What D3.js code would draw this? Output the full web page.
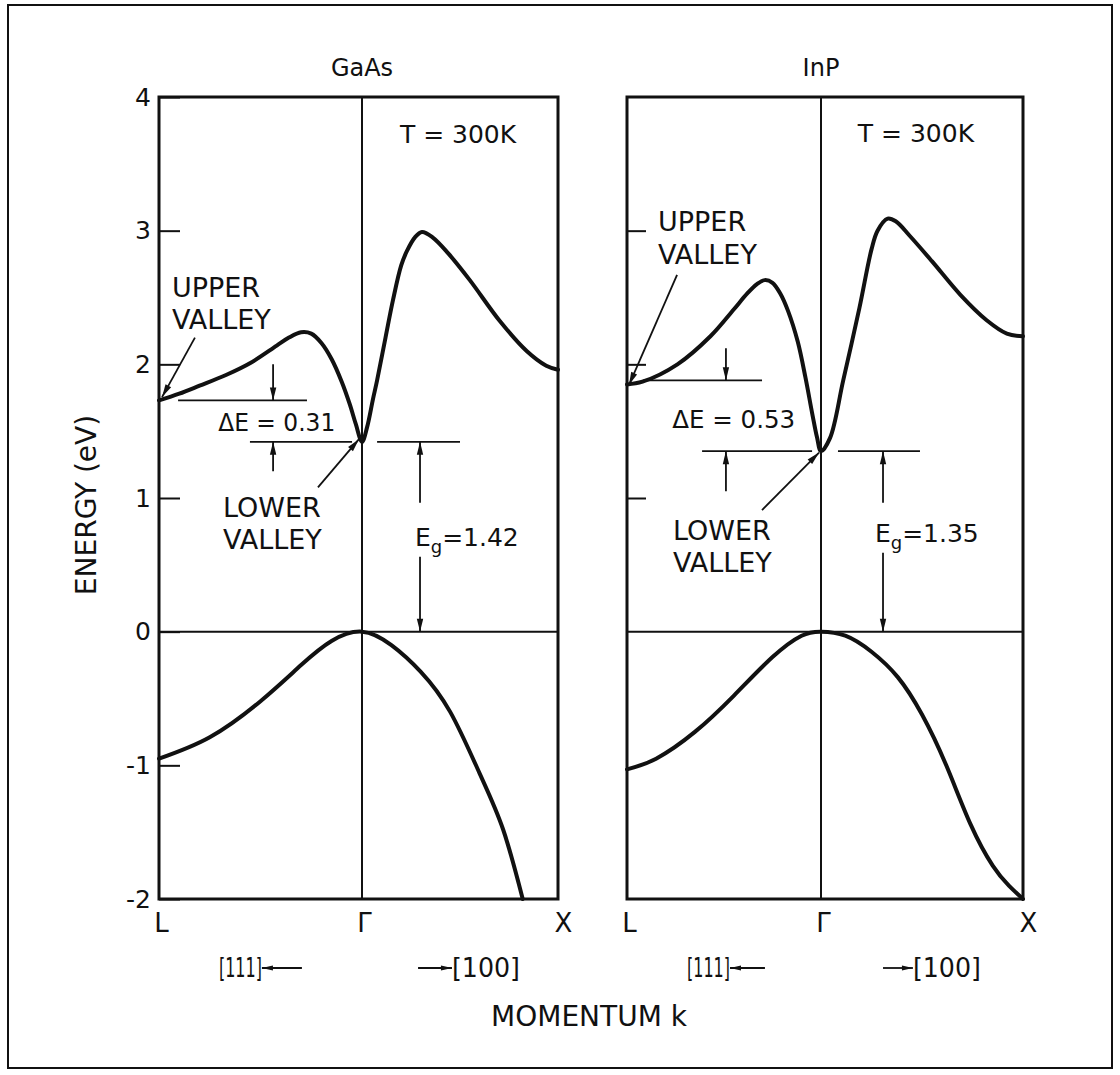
<!DOCTYPE html>
<html>
<head>
<meta charset="utf-8">
<script src="https://cdn.jsdelivr.net/npm/d3@7"></script>
<style>
  body { margin: 0; background: #fff; }
  svg { display: block; }
  text { font-family: "DejaVu Sans", sans-serif; fill: #111; }
</style>
</head>
<body>
<svg id="chart" width="1120" height="1075"></svg>
<script>
// Band structure of GaAs and InP along L–Γ–X at room temperature.
// Wave vector k runs from -1 (L, [111]) through 0 (Γ) to +1 (X, [100]); energies in eV.

const kPoints = [-1, 0, 1];
const kLabels = ["L", "Γ", "X"];
const energyTicks = [4, 3, 2, 1, 0, -1, -2];
const energyTickLabels = ["4", "3", "2", "1", "0", "-1", "-2"];

const materials = ["GaAs", "InP"];
const bandGaps = [1.42, 1.35];
const valleySeparations = [0.31, 0.53];
const temperatureLabels = ["T = 300K", "T = 300K"];
const directionLabels = ["[111]", "[100]"];

// conduction and valence bands, [k, E]
const gaasConduction = [
  [-1, 1.73], [-0.9, 1.78], [-0.8, 1.84], [-0.67, 1.92], [-0.55, 2.01], [-0.42, 2.14],
  [-0.36, 2.2], [-0.3, 2.24], [-0.25, 2.23], [-0.2, 2.16], [-0.15, 2.04], [-0.1, 1.87],
  [-0.06, 1.7], [-0.03, 1.55], [0, 1.42],
  [0.026, 1.53], [0.056, 1.74], [0.077, 1.88], [0.12, 2.2], [0.158, 2.48], [0.2, 2.74],
  [0.23, 2.85], [0.27, 2.95], [0.306, 2.99], [0.36, 2.95], [0.44, 2.83], [0.55, 2.63],
  [0.7, 2.33], [0.84, 2.1], [0.94, 1.99], [1, 1.96]
];
const gaasValence = [
  [-1, -0.95], [-0.75, -0.79], [-0.5, -0.52], [-0.3, -0.25], [-0.15, -0.07], [0, 0],
  [0.15, -0.1], [0.3, -0.3], [0.45, -0.6], [0.6, -1.06], [0.72, -1.48], [0.82, -2.0]
];
const inpConduction = [
  [-1, 1.85], [-0.92, 1.87], [-0.74, 2.0], [-0.57, 2.21], [-0.45, 2.41], [-0.38, 2.53],
  [-0.33, 2.6], [-0.29, 2.63], [-0.25, 2.61], [-0.21, 2.53], [-0.17, 2.4], [-0.12, 2.17],
  [-0.08, 1.9], [-0.045, 1.63], [-0.02, 1.45], [0, 1.35],
  [0.045, 1.45], [0.11, 1.88], [0.19, 2.42], [0.25, 2.86], [0.28, 3.0], [0.33, 3.09],
  [0.37, 3.07], [0.44, 2.96], [0.55, 2.77], [0.69, 2.52], [0.82, 2.33], [0.92, 2.23], [1, 2.21]
];
const inpValence = [
  [-1, -1.03], [-0.85, -0.95], [-0.65, -0.75], [-0.45, -0.48], [-0.25, -0.19], [-0.1, -0.03], [0, 0],
  [0.12, -0.03], [0.25, -0.15], [0.38, -0.34], [0.5, -0.62], [0.62, -1.0], [0.74, -1.44],
  [0.85, -1.75], [0.93, -1.9], [1, -2.0]
];
const bands = [[gaasConduction, gaasValence], [inpConduction, inpValence]];

// panel geometry and annotation placement (in k / eV units)
const panels = [
  {
    range: [159, 362, 558], tickValues: energyTicks, showLabels: true, tickLen: 21,
    upperText: { k: -0.936, E: [2.58, 2.34] }, upperArrow: [[-0.823, 2.2], [-0.985, 1.755]],
    deltaTop: [-0.906, -0.271], deltaBottom: [-0.552, -0.049], deltaArrowK: -0.438,
    deltaArrowFrom: [2.0, 1.2], deltaText: { k: -0.42, E: 1.57, len: 117 },
    lowerText: { k: -0.685, E: [0.93, 0.69] }, lowerArrow: [[-0.217, 1.08], [-0.015, 1.44]],
    gapLine: [0.077, 0.5], gapArrowK: 0.296, gapBreak: [0.965, 0.56], gapText: { k: 0.27, E: 0.71 },
    temp: { k: 0.49, E: 3.72 }, dir111: [-0.296, -0.493], dir100: [0.286, 0.459]
  },
  {
    range: [627, 821, 1023], tickValues: [3, 2, 1], showLabels: false, tickLen: 19,
    upperText: { k: -0.84, E: [3.07, 2.82] }, upperArrow: [[-0.742, 2.67], [-0.99, 1.845]],
    deltaTop: [-0.918, -0.304], deltaBottom: [-0.613, -0.046], deltaArrowK: -0.49,
    deltaArrowFrom: [2.12, 1.05], deltaText: { k: -0.45, E: 1.59, len: 123 },
    lowerText: { k: -0.763, E: [0.76, 0.52] }, lowerArrow: [[-0.304, 0.91], [-0.01, 1.34]],
    gapLine: [0.084, 0.49], gapArrowK: 0.307, gapBreak: [0.965, 0.59], gapText: { k: 0.267, E: 0.74 },
    temp: { k: 0.47, E: 3.73 }, dir111: [-0.289, -0.469], dir100: [0.307, 0.455]
  }
];

const ink = "#111";
const svg = d3.select("#chart");

// outer frame
svg.append("rect")
  .attr("x", 8).attr("y", 5).attr("width", 1104).attr("height", 1063)
  .attr("fill", "none").attr("stroke", ink).attr("stroke-width", 2);

const y = d3.scaleLinear().domain([-2, 4]).range([899, 97]);

function arrow(g, x1, y1, x2, y2, len = 13, half = 3.2) {
  g.append("line")
    .attr("x1", x1).attr("y1", y1).attr("x2", x2).attr("y2", y2)
    .attr("stroke", ink).attr("stroke-width", 1.8);
  const a = Math.atan2(y2 - y1, x2 - x1);
  const bx = x2 - len * Math.cos(a), by = y2 - len * Math.sin(a);
  const px = -Math.sin(a) * half, py = Math.cos(a) * half;
  g.append("path")
    .attr("d", `M${x2},${y2}L${bx + px},${by + py}L${bx - px},${by - py}Z`)
    .attr("fill", ink);
}

function hline(g, x1, x2, yy, w = 1.8) {
  g.append("line").attr("x1", x1).attr("x2", x2).attr("y1", yy).attr("y2", yy)
    .attr("stroke", ink).attr("stroke-width", w);
}

// conduction bands keep their sharp Γ minimum; valence bands are smooth splines
const bandCurves = [d3.curveCatmullRom.alpha(0.5), d3.curveNatural];

panels.forEach((p, i) => {
  const x = d3.scaleLinear().domain(kPoints).range(p.range);
  const g = svg.append("g");
  const gap = bandGaps[i];
  const upper = gap + valleySeparations[i];

  // valence band maximum reference line and Γ line
  hline(g, x(-1), x(1), y(0), 2);
  g.append("line").attr("x1", x(0)).attr("x2", x(0)).attr("y1", y(4)).attr("y2", y(-2))
    .attr("stroke", ink).attr("stroke-width", 2);

  // energy axis: inward ticks, labels on the first panel only
  const axis = d3.axisLeft(y)
    .tickValues(p.tickValues)
    .tickSizeInner(-p.tickLen).tickSizeOuter(0).tickPadding(8)
    .tickFormat(d => p.showLabels ? energyTickLabels[energyTicks.indexOf(d)] : "");
  const ax = g.append("g").attr("transform", `translate(${x(-1)},0)`).call(axis);
  ax.select(".domain").remove();
  ax.selectAll(".tick line").attr("stroke", ink).attr("stroke-width", 2);
  ax.selectAll(".tick text").attr("font-size", 25).attr("fill", ink)
    .attr("font-family", "DejaVu Sans, sans-serif");

  // momentum axis labels
  const xa = d3.axisBottom(x).tickValues(kPoints).tickSize(0).tickPadding(15)
    .tickFormat(d => kLabels[kPoints.indexOf(d)]);
  const bx = g.append("g").attr("transform", `translate(0,${y(-2)})`).call(xa);
  bx.select(".domain").remove();
  bx.selectAll(".tick text").attr("font-size", 26).attr("fill", ink)
    .attr("font-family", "DejaVu Sans, sans-serif")
    .attr("dx", d => d === 1 ? 5 : 2);

  // bands
  bands[i].forEach((b, j) => {
    const line = d3.line().curve(bandCurves[j]);
    g.append("path")
      .attr("d", line(b.map(d => [x(d[0]), y(d[1])])))
      .attr("fill", "none").attr("stroke", ink).attr("stroke-width", 4)
      .attr("stroke-linejoin", "round").attr("stroke-linecap", "round");
  });

  // panel frame
  g.append("rect")
    .attr("x", x(-1)).attr("y", y(4))
    .attr("width", x(1) - x(-1)).attr("height", y(-2) - y(4))
    .attr("fill", "none").attr("stroke", ink).attr("stroke-width", 3);

  // title and temperature
  g.append("text").attr("x", x(0)).attr("y", 76).attr("text-anchor", "middle")
    .attr("font-size", 24).text(materials[i]);
  g.append("text").attr("x", x(p.temp.k)).attr("y", y(p.temp.E)).attr("dy", "0.36em")
    .attr("text-anchor", "middle").attr("font-size", 25).text(temperatureLabels[i]);

  // upper valley label
  ["UPPER", "VALLEY"].forEach((t, j) => {
    g.append("text").attr("x", x(p.upperText.k)).attr("y", y(p.upperText.E[j])).attr("dy", "0.36em")
      .attr("font-size", 27).text(t);
  });
  arrow(g, x(p.upperArrow[0][0]), y(p.upperArrow[0][1]), x(p.upperArrow[1][0]), y(p.upperArrow[1][1]));

  // ΔE bracket between the L valley and the Γ valley
  hline(g, x(p.deltaTop[0]), x(p.deltaTop[1]), y(upper));
  hline(g, x(p.deltaBottom[0]), x(p.deltaBottom[1]), y(gap));
  arrow(g, x(p.deltaArrowK), y(p.deltaArrowFrom[0]), x(p.deltaArrowK), y(upper));
  arrow(g, x(p.deltaArrowK), y(p.deltaArrowFrom[1]), x(p.deltaArrowK), y(gap));
  g.append("text").attr("x", x(p.deltaText.k)).attr("y", y(p.deltaText.E)).attr("dy", "0.36em")
    .attr("text-anchor", "middle").attr("font-size", 25)
    .attr("textLength", p.deltaText.len).attr("lengthAdjust", "spacingAndGlyphs")
    .text(`ΔE = ${valleySeparations[i].toFixed(2)}`);

  // lower valley label
  ["LOWER", "VALLEY"].forEach((t, j) => {
    g.append("text").attr("x", x(p.lowerText.k)).attr("y", y(p.lowerText.E[j])).attr("dy", "0.36em")
      .attr("font-size", 27).text(t);
  });
  arrow(g, x(p.lowerArrow[0][0]), y(p.lowerArrow[0][1]), x(p.lowerArrow[1][0]), y(p.lowerArrow[1][1]));

  // band gap bracket
  hline(g, x(p.gapLine[0]), x(p.gapLine[1]), y(gap));
  arrow(g, x(p.gapArrowK), y(p.gapBreak[0]), x(p.gapArrowK), y(gap));
  arrow(g, x(p.gapArrowK), y(p.gapBreak[1]), x(p.gapArrowK), y(0));
  const gt = g.append("text").attr("x", x(p.gapText.k)).attr("y", y(p.gapText.E)).attr("dy", "0.36em")
    .attr("font-size", 25);
  gt.append("tspan").text("E");
  gt.append("tspan").attr("font-size", 18).attr("dy", 7).text("g");
  gt.append("tspan").attr("dy", -7).text(`=${gap.toFixed(2)}`);

  // crystal directions
  const yd = y(-2) + 69;
  arrow(g, x(p.dir111[0]), yd, x(p.dir111[1]), yd, 11, 2.6);
  g.append("text").attr("x", x(p.dir111[1])).attr("y", yd).attr("dy", "0.36em")
    .attr("text-anchor", "end").attr("font-size", 26)
    .attr("textLength", 43).attr("lengthAdjust", "spacingAndGlyphs").text(directionLabels[0]);
  arrow(g, x(p.dir100[0]), yd, x(p.dir100[1]), yd, 11, 2.6);
  g.append("text").attr("x", x(p.dir100[1])).attr("y", yd).attr("dy", "0.36em")
    .attr("font-size", 26)
    .attr("textLength", 68).attr("lengthAdjust", "spacingAndGlyphs").text(directionLabels[1]);
});

// shared axis titles
svg.append("text").attr("x", 589).attr("y", 1026).attr("text-anchor", "middle")
  .attr("font-size", 28).text("MOMENTUM k");
svg.append("text")
  .attr("transform", "translate(96,505) rotate(-90)")
  .attr("text-anchor", "middle").attr("font-size", 28).text("ENERGY (eV)");
</script>
</body>
</html>
